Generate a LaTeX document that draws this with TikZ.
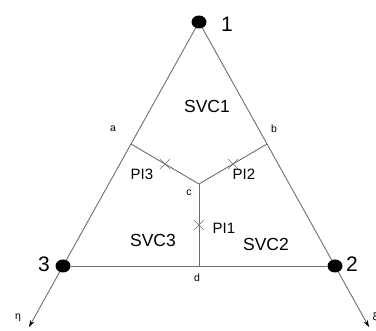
\documentclass[tikz,border=0pt]{standalone}
\usepackage{fontspec}
\setmainfont{Liberation Sans}
\definecolor{linegray}{RGB}{110,110,110}
\usetikzlibrary{arrows.meta,calc,shapes.geometric,shapes.misc}
\tikzset{
  edge/.style={draw=linegray, line width=0.9pt},
  axis/.style={edge, -{Stealth[length=7pt, width=4.5pt, color=black, fill=black]}},
  vertex/.style={ellipse, fill=black, minimum width=15pt, minimum height=13pt, inner sep=0pt},
  pimark/.style={cross out, draw=linegray, line width=0.6pt, minimum size=9pt, inner sep=0pt},
  numtext/.style={font=\fontsize{21}{23}\selectfont, inner sep=0pt},
  svctext/.style={font=\fontsize{17.5}{19}\selectfont, inner sep=0pt},
  pitext/.style={font=\fontsize{15}{17}\selectfont, inner sep=0pt},
  smalltext/.style={font=\fontsize{10.5}{12}\selectfont, inner sep=0pt}
}
\begin{document}
\begin{tikzpicture}[x=1pt, y=-1pt]
\useasboundingbox (0,0) rectangle (376,331);

% --- corner nodes ---
\node[vertex] (n1) at (199,22) {};
\node[vertex] (n2) at (335,266) {};
\node[vertex] (n3) at (63,266) {};
\node[numtext] (l1) at (227,24) {1};
\node[numtext] (l2) at (352,264) {2};
\node[numtext] (l3) at (44,264) {3};

% --- inner points ---
\coordinate (a) at ($(n1)!0.5!(n3)$);
\coordinate (b) at ($(n1)!0.5!(n2)$);
\coordinate (d) at ($(n3)!0.5!(n2)$);
\coordinate (c) at (199,184);
\coordinate (etaend) at ($(n1)!1.25!(n3)$);
\coordinate (xiend) at ($(n1)!1.25!(n2)$);

% triangle
\draw[edge] (n1) -- (n2);
\draw[edge] (n2) -- (n3);
\draw[edge] (n3) -- (n1);

% inner boundaries
\draw[edge] (a) -- (c);
\draw[edge] (b) -- (c);
\draw[edge] (c) -- (d);

% axes
\draw[axis] (n3) -- (etaend);
\draw[axis] (n2) -- (xiend);

% --- PI marks ---
\node[pimark] (pi3) at ($(a)!0.5!(c)$) {};
\node[pimark] (pi2) at ($(b)!0.5!(c)$) {};
\node[pimark] (pi1) at ($(c)!0.5!(d)$) {};

% --- labels ---
\node[smalltext] at (113,129) {a};
\node[smalltext] at (274,129) {b};
\node[smalltext] at (189,193) {c};
\node[smalltext] at (197,278) {d};
\node[pitext] at (142,174) {PI3};
\node[pitext] at (244,174) {PI2};
\node[pitext] at (224,228) {PI1};
\node[svctext] at (207,106) {SVC1};
\node[svctext] at (153,240) {SVC3};
\node[svctext] at (266,244) {SVC2};
\node[smalltext] at (18,318) {η};
\node[smalltext] at (375,318) {ξ};

\end{tikzpicture}
\end{document}
